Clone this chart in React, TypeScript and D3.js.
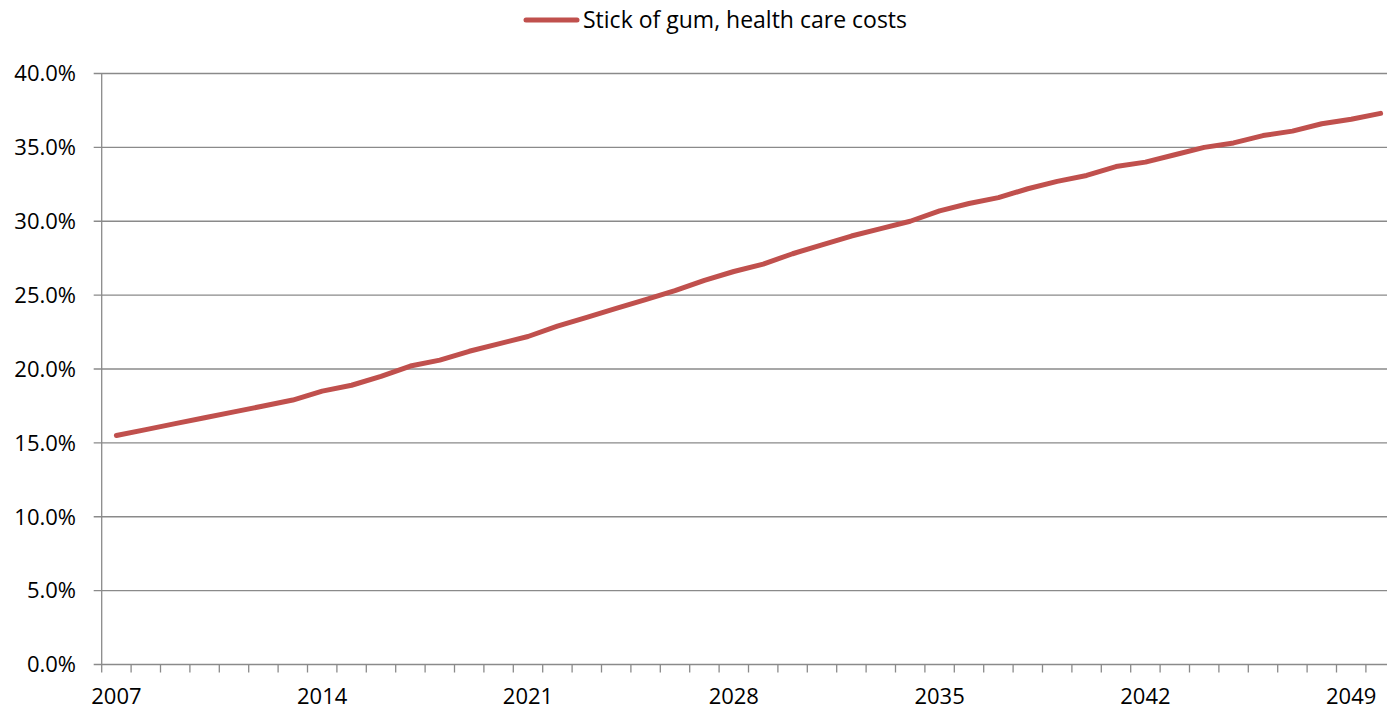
import React from "react";
import * as d3 from "d3";

const years: number[] = [
  2007, 2008, 2009, 2010, 2011, 2012, 2013, 2014, 2015, 2016, 2017, 2018, 2019, 2020, 2021,
  2022, 2023, 2024, 2025, 2026, 2027, 2028, 2029, 2030, 2031, 2032, 2033, 2034, 2035, 2036,
  2037, 2038, 2039, 2040, 2041, 2042, 2043, 2044, 2045, 2046, 2047, 2048, 2049, 2050,
];

const gumCosts: number[] = [
  15.5, 15.9, 16.3, 16.7, 17.1, 17.5, 17.9, 18.5, 18.9, 19.5, 20.2, 20.6, 21.2, 21.7, 22.2,
  22.9, 23.5, 24.1, 24.7, 25.3, 26.0, 26.6, 27.1, 27.8, 28.4, 29.0, 29.5, 30.0, 30.7, 31.2,
  31.6, 32.2, 32.7, 33.1, 33.7, 34.0, 34.5, 35.0, 35.3, 35.8, 36.1, 36.6, 36.9, 37.3,
];

const yTicks: number[] = [0, 5, 10, 15, 20, 25, 30, 35, 40];
const xLabelYears: number[] = [2007, 2014, 2021, 2028, 2035, 2042, 2049];
const seriesName = "Stick of gum, health care costs";

const W = 1387;
const H = 710;
const plotLeft = 101.7;
const plotRight = 1395.3;
const plotTop = 73.5;
const plotBottom = 664.5;
const lineColor = "#C0504D";
const gridColor = "#8a8a8a";
const font = "'Open Sans', sans-serif";

export default function App() {
  const x = d3
    .scaleBand<number>()
    .domain(years)
    .range([plotLeft, plotRight])
    .padding(0);
  const y = d3.scaleLinear().domain([0, 40]).range([plotBottom, plotTop]);

  const line = d3
    .line<number>()
    .x((_, i) => (x(years[i]) as number) + x.bandwidth() / 2)
    .y((d) => y(d));

  const tickEdges = years.map((yr) => x(yr) as number).concat([plotRight]);

  return (
    <svg
      width={W}
      height={H}
      style={{ position: "fixed", left: 0, top: 0, background: "#fff" }}
    >
      <rect x={0} y={0} width={W} height={H} fill="#fff" />
      {yTicks.map((t) => (
        <line
          key={"g" + t}
          x1={plotLeft - 8}
          x2={plotRight}
          y1={y(t)}
          y2={y(t)}
          stroke={gridColor}
          strokeWidth={1.3}
        />
      ))}
      <line
        x1={plotLeft}
        x2={plotLeft}
        y1={plotTop}
        y2={plotBottom}
        stroke={gridColor}
        strokeWidth={1.3}
      />
      {yTicks.map((t) => (
        <text
          key={"yl" + t}
          x={76}
          y={y(t) + 7.8}
          textAnchor="end"
          fontFamily={font}
          fontSize={22}
          fill="#000"
        >
          {t.toFixed(1) + "%"}
        </text>
      ))}
      {tickEdges.map((e, i) => (
        <line
          key={"xt" + i}
          x1={e}
          x2={e}
          y1={plotBottom}
          y2={plotBottom + 8}
          stroke={gridColor}
          strokeWidth={1.3}
        />
      ))}
      {xLabelYears.map((yr) => (
        <text
          key={"xl" + yr}
          x={(x(yr) as number) + x.bandwidth() / 2}
          y={704}
          textAnchor="middle"
          fontFamily={font}
          fontSize={22}
          fill="#000"
        >
          {yr}
        </text>
      ))}
      <path
        d={line(gumCosts) || ""}
        fill="none"
        stroke={lineColor}
        strokeWidth={5}
        strokeLinecap="round"
        strokeLinejoin="round"
      />
      <line
        x1={526}
        x2={577}
        y1={20}
        y2={20}
        stroke={lineColor}
        strokeWidth={5}
        strokeLinecap="round"
      />
      <text x={583} y={28} fontFamily={font} fontSize={23} fill="#000">
        {seriesName}
      </text>
    </svg>
  );
}
